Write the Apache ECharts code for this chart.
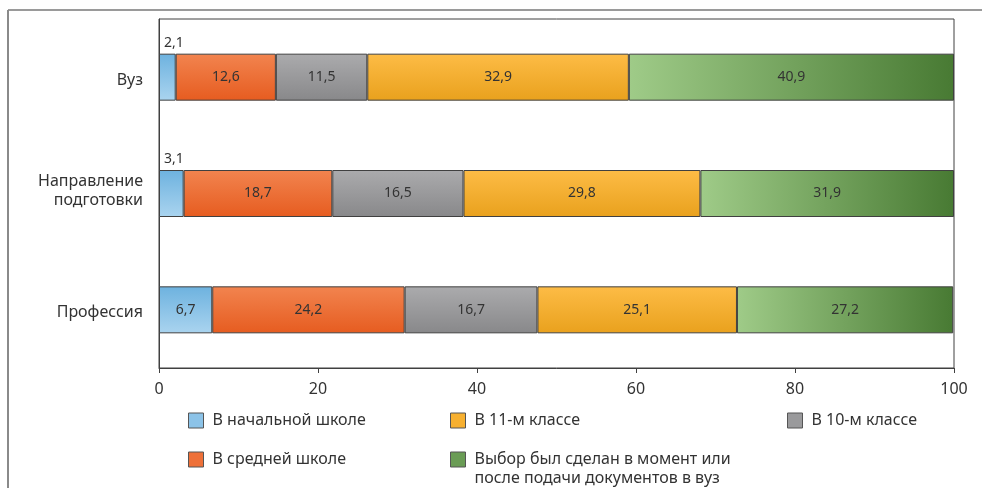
<!DOCTYPE html>
<html>
<head>
<meta charset="utf-8">
<script src="https://cdn.jsdelivr.net/npm/echarts@6/dist/echarts.min.js"></script>
<style>
  html, body { margin: 0; padding: 0; background: #fff; }
  #chart { width: 983px; height: 488px; }
</style>
</head>
<body>
<div id="chart"></div>
<script>
  // категории (сверху вниз)
  var categories = ['Вуз', 'Направление\nподготовки', 'Профессия']
  var xTicks = [0, 20, 40, 60, 80, 100]

  // доли, %
  var primarySchool = [2.1, 3.1, 6.7]
  var middleSchool = [12.6, 18.7, 24.2]
  var grade10 = [11.5, 16.5, 16.7]
  var grade11 = [32.9, 29.8, 25.1]
  var atApplication = [40.9, 31.9, 27.2]

  var names = [
    'В начальной школе',
    'В средней школе',
    'В 10-м классе',
    'В 11-м классе',
    'Выбор был сделан в момент или\nпосле подачи документов в вуз'
  ]

  var font = '"Noto Sans", "Open Sans", sans-serif'
  var textColor = '#333'

  function vGrad(top, bottom) {
    return { type: 'linear', x: 0, y: 0, x2: 0, y2: 1,
      colorStops: [{ offset: 0, color: top }, { offset: 1, color: bottom }] }
  }
  function hGrad(left, right) {
    return { type: 'linear', x: 0, y: 0, x2: 1, y2: 0,
      colorStops: [{ offset: 0, color: left }, { offset: 1, color: right }] }
  }

  var fills = [
    vGrad('#6db2df', '#aad4ef'),
    vGrad('#f2844f', '#e65c20'),
    vGrad('#ababad', '#88888a'),
    vGrad('#fdbc46', '#e9a11d'),
    hGrad('#9fcb88', '#487a33')
  ]
  var solids = ['#8cc3e8', '#ee7038', '#9a9a9c', '#f7b030', '#6a9c55']

  var fmt = function (p) { return String(p.value).replace('.', ',') }

  // маленькие значения подписываются над столбцом
  function withLabels(values) {
    return values.map(function (v) {
      if (v < 5) {
        return { value: v, label: { position: [5, -18] } }
      }
      return v
    })
  }

  var seriesData = [primarySchool, middleSchool, grade10, grade11, atApplication]

  var series = seriesData.map(function (vals, i) {
    return {
      name: names[i],
      type: 'bar',
      stack: 'total',
      barWidth: 47,
      data: i === 0 ? withLabels(vals) : vals,
      itemStyle: { color: fills[i], borderColor: '#404040', borderWidth: 1 },
      label: { show: true, position: 'inside', formatter: fmt,
        color: textColor, fontFamily: font, fontSize: 14 },
      emphasis: { disabled: true }
    }
  })

  // легенда: три колонки, две строки
  var legendPos = [
    [188, 411], [188, 450], [787, 411], [450, 411], [450, 431]
  ]
  var legends = names.map(function (n, i) {
    return {
      left: legendPos[i][0],
      top: legendPos[i][1],
      padding: 0,
      icon: 'rect',
      itemWidth: 15,
      itemHeight: 15,
      selectedMode: false,
      // у двухстрочной подписи первая строка должна стоять вровень со значком
      formatter: i === 4 ? function (name) { return '\n' + name } : '{name}',
      data: [{ name: n, itemStyle: { color: solids[i], borderColor: '#555', borderWidth: 1 } }],
      textStyle: {
        fontFamily: font, fontSize: 16, color: textColor, lineHeight: 19,
        padding: [0, 0, 0, 4]
      }
    }
  })

  // подписи оси Y: двухстрочная чуть выше центра, однострочные чуть ниже
  function yLabel(value) {
    var lines = value.split('\n')
    if (lines.length > 1) {
      return lines.map(function (s) { return '{a|' + s + '}' }).join('\n') + '\n{s| }'
    }
    return '{s| }\n{a|' + value + '}'
  }

  var chart = echarts.init(document.getElementById('chart'))
  var option = {
    animation: false,
    grid: {
      left: 159, right: 29, top: 19, bottom: 120,
      show: true, borderColor: '#404040', borderWidth: 1
    },
    legend: legends,
    xAxis: {
      type: 'value',
      min: xTicks[0],
      max: xTicks[xTicks.length - 1],
      interval: 20,
      splitLine: { show: false },
      axisLine: { show: true, lineStyle: { color: '#404040' } },
      axisTick: { show: true, length: 5, lineStyle: { color: '#404040' } },
      axisLabel: { fontFamily: font, fontSize: 16, color: textColor, margin: 13 }
    },
    yAxis: {
      type: 'category',
      data: categories,
      inverse: true,
      axisLine: { show: true, lineStyle: { color: '#404040' } },
      axisTick: { show: false },
      axisLabel: {
        margin: 16,
        formatter: yLabel,
        rich: {
          a: { fontFamily: font, fontSize: 16, color: textColor, lineHeight: 19, align: 'right' },
          s: { fontSize: 4, lineHeight: 6 }
        }
      }
    },
    graphic: [
      { type: 'line', shape: { x1: 8, y1: 10, x2: 982, y2: 10 }, style: { stroke: '#9a9a9a', lineWidth: 2 } },
      { type: 'line', shape: { x1: 8, y1: 10, x2: 8, y2: 488 }, style: { stroke: '#8a8a8a', lineWidth: 2 } }
    ],
    series: series
  }
  chart.setOption(option)
</script>
</body>
</html>
